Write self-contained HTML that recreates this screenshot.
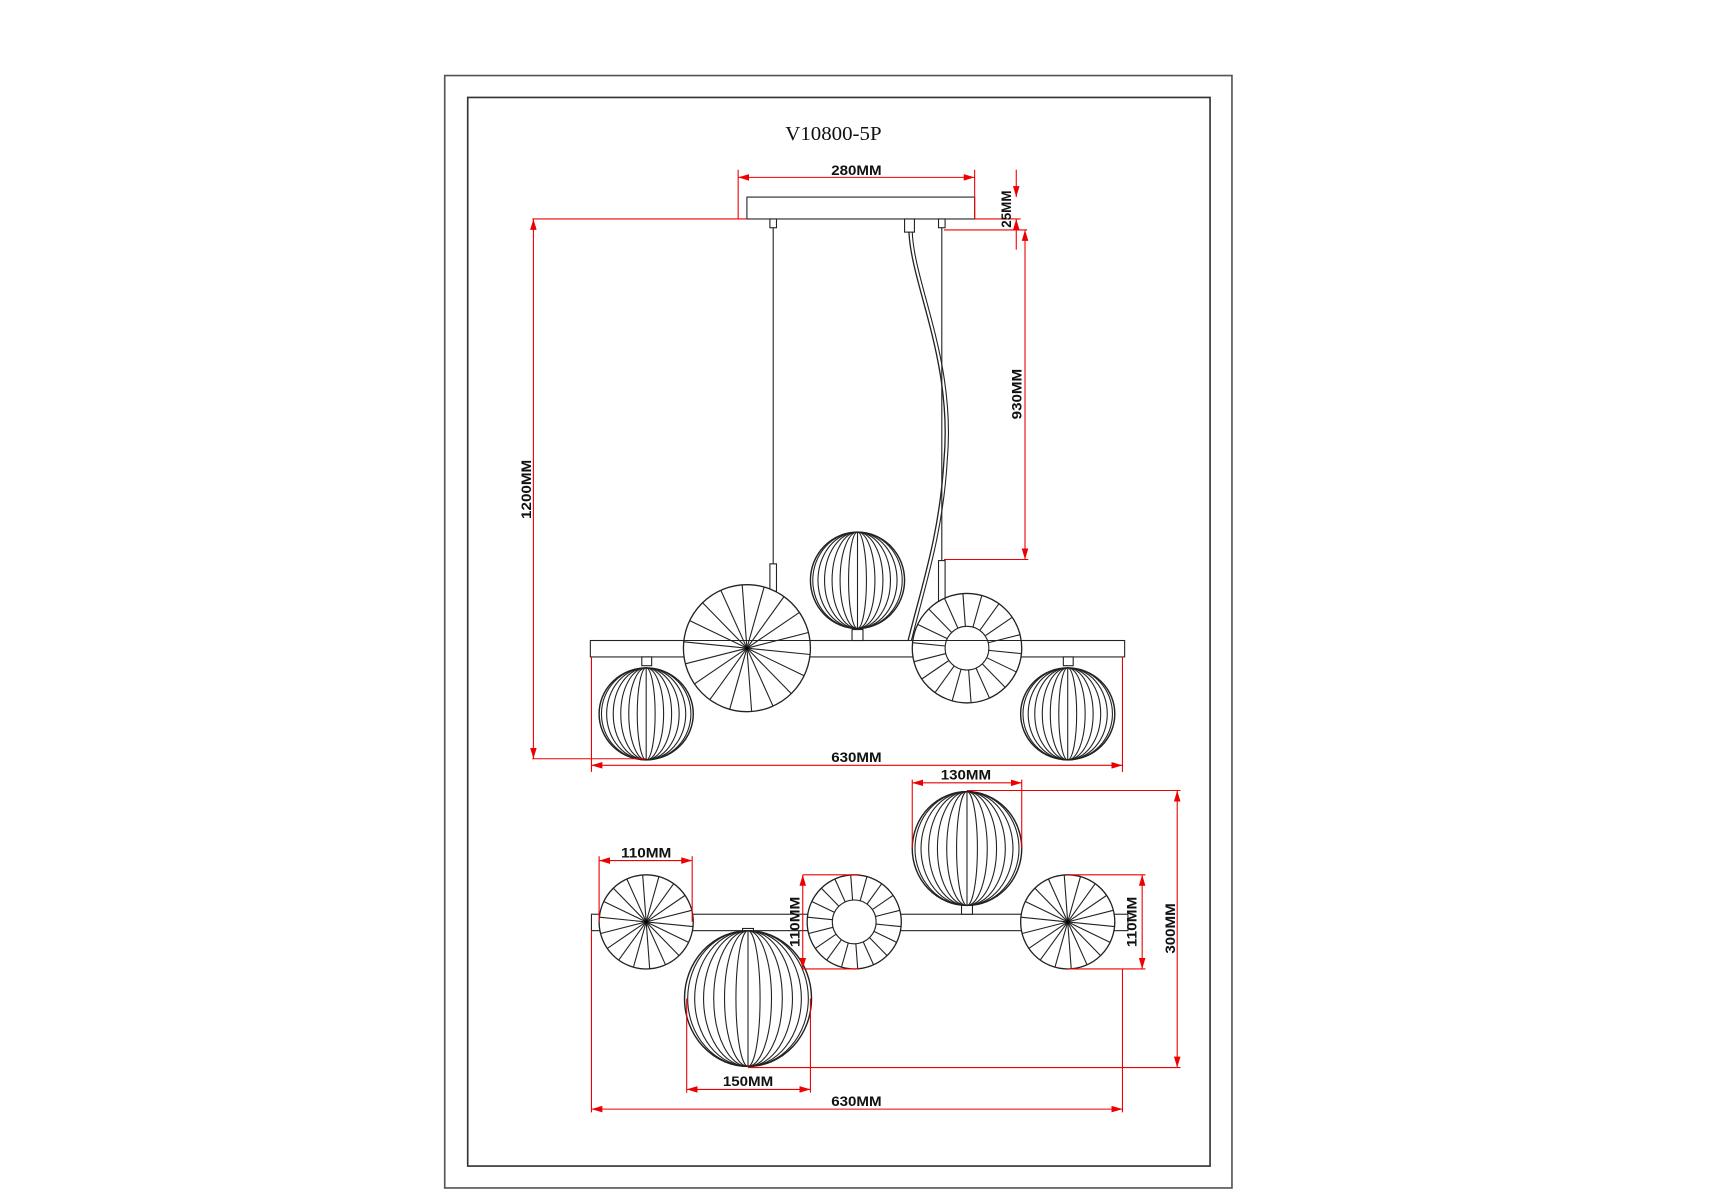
<!DOCTYPE html>
<html><head><meta charset="utf-8"><style>
html,body{margin:0;padding:0;background:#fff;}
svg{display:block;}
.t{font-family:"Liberation Sans",sans-serif;font-weight:bold;font-size:13px;fill:#111;}
</style></head><body>
<svg id="s" width="1715" height="1200" viewBox="0 0 1566 1096" xmlns="http://www.w3.org/2000/svg">
<defs>
<marker id="a" viewBox="0 0 10 6" refX="10" refY="3" markerWidth="10" markerHeight="6" orient="auto-start-reverse" markerUnits="userSpaceOnUse"><path d="M0,0 L10,3 L0,6 z" fill="#e00"/></marker>
</defs>
<rect x="406" y="69" width="719" height="1016" fill="none" stroke="#555" stroke-width="1.5"/>
<rect x="427" y="89" width="678" height="976" fill="none" stroke="#333" stroke-width="1.5"/>
<text x="761" y="128" text-anchor="middle" font-family="Liberation Serif,serif" font-size="18" textLength="88" lengthAdjust="spacingAndGlyphs" fill="#111">V10800-5P</text>

<g id="blk" fill="none" stroke="#222" stroke-width="1"></g>
<g id="red" fill="none" stroke="#e00" stroke-width="1"></g>

<text class="t" x="782" y="160" text-anchor="middle" textLength="46" lengthAdjust="spacingAndGlyphs">280MM</text>
<text class="t" transform="translate(923,191) rotate(-90)" text-anchor="middle" textLength="34" lengthAdjust="spacingAndGlyphs">25MM</text>
<text class="t" transform="translate(933,360) rotate(-90)" text-anchor="middle" textLength="46" lengthAdjust="spacingAndGlyphs">930MM</text>
<text class="t" transform="translate(485,447) rotate(-90)" text-anchor="middle" textLength="54" lengthAdjust="spacingAndGlyphs">1200MM</text>
<text class="t" x="782" y="696" text-anchor="middle" textLength="46" lengthAdjust="spacingAndGlyphs">630MM</text>
<text class="t" x="882" y="712" text-anchor="middle" textLength="46" lengthAdjust="spacingAndGlyphs">130MM</text>
<text class="t" x="590" y="783" text-anchor="middle" textLength="46" lengthAdjust="spacingAndGlyphs">110MM</text>
<text class="t" transform="translate(730,842) rotate(-90)" text-anchor="middle" textLength="46" lengthAdjust="spacingAndGlyphs">110MM</text>
<text class="t" transform="translate(1038,842) rotate(-90)" text-anchor="middle" textLength="46" lengthAdjust="spacingAndGlyphs">110MM</text>
<text class="t" transform="translate(1073,848) rotate(-90)" text-anchor="middle" textLength="46" lengthAdjust="spacingAndGlyphs">300MM</text>
<text class="t" x="683" y="992" text-anchor="middle" textLength="46" lengthAdjust="spacingAndGlyphs">150MM</text>
<text class="t" x="782" y="1010" text-anchor="middle" textLength="46" lengthAdjust="spacingAndGlyphs">630MM</text>
</svg>
<script>
var NS="http://www.w3.org/2000/svg",B=document.getElementById('blk'),R=document.getElementById('red');
function el(p,t,a){var e=document.createElementNS(NS,t);for(var k in a)e.setAttribute(k,a[k]);p.appendChild(e);return e;}
function L(p,x1,y1,x2,y2,ar){var e=el(p,'line',{x1:x1,y1:y1,x2:x2,y2:y2});if(ar){e.setAttribute('marker-start','url(#a)');e.setAttribute('marker-end','url(#a)');}return e;}
function rect(x,y,w,h){el(B,'rect',{x:x,y:y,width:w,height:h,fill:'#fff'});}
function globe(cx,cy,rx,ry){el(B,'ellipse',{cx:cx,cy:cy,rx:rx,ry:ry,fill:'#fff','stroke-width':1.3});
 [0.95,0.84,0.7,0.54,0.37,0.19].forEach(function(k){el(B,'ellipse',{cx:cx,cy:cy,rx:rx*k,ry:ry});});L(B,cx,cy-ry,cx,cy+ry);}
function disc(cx,cy,r,ir){el(B,'circle',{cx:cx,cy:cy,r:r,fill:'#fff','stroke-width':1.2});
 for(var i=0;i<18;i++){var a=i*Math.PI*2/18+0.1;L(B,cx+Math.cos(a)*ir,cy+Math.sin(a)*ir,cx+Math.cos(a)*r,cy+Math.sin(a)*r);}
 if(ir>0)el(B,'circle',{cx:cx,cy:cy,r:ir,fill:'#fff'});else el(B,'circle',{cx:cx,cy:cy,r:2,fill:'#000'});}
// top view
rect(682,180,208,20);
L(B,706,200,706,515);L(B,860,200,860,515);
rect(703,200,6,8);rect(857,200,6,8);rect(826,200,9,12);
el(B,'path',{d:'M830,212 C832,260 870,330 862,420 C858,490 840,540 828,590','stroke-width':1.2});
el(B,'path',{d:'M833,212 C835,260 873,330 865,420 C861,490 843,540 831,590','stroke-width':1});
rect(703,515,6,25);rect(857,512,6,75);
rect(539,585,488,15);
rect(586,600,9,8);rect(971,600,9,8);rect(778,575,10,10);
globe(590,652,43,42);globe(975,652,43,42);globe(783,530,43,44);
disc(682,592,58,0);disc(883,592,50,20);
L(B,539,585,1027,585);
// bottom view
rect(540,835,490,15);
disc(590,842,43,0);disc(780,842,43,20);disc(975,842,43,0);
rect(878,825,10,10);rect(678,848,10,10);
globe(883,775,50,52);globe(683,912,58,62);
// red dims
L(R,674,162,890,162,1);L(R,674,155,674,200);L(R,890,155,890,200);
L(R,486,200,682,200);L(R,890,200,932,200);
L(R,928,155,928,180).setAttribute('marker-end','url(#a)');
L(R,928,228,928,200).setAttribute('marker-end','url(#a)');
L(R,862,210,938,210);L(R,936,210,936,511,1);L(R,862,511,939,511);
L(R,487,200,487,693,1);L(R,486,693,590,693);
L(R,540,600,540,705);L(R,1025,600,1025,705);L(R,540,699,1025,699,1);
L(R,833,715,933,715,1);L(R,833,712,833,775);L(R,933,712,933,775);
L(R,883,722,1078,722);L(R,1075,722,1075,975,1);L(R,683,975,1078,975);
L(R,547,786,632,786,1);L(R,547,782,547,842);L(R,632,782,632,842);
L(R,733,799,733,885,1);L(R,733,799,785,799);L(R,733,885,785,885);
L(R,1043,799,1043,885,1);L(R,975,799,1046,799);L(R,975,885,1046,885);
L(R,627,995,740,995,1);L(R,627,912,627,998);L(R,740,912,740,998);
L(R,540,850,540,1016);L(R,1025,885,1025,1016);L(R,540,1013,1025,1013,1);
</script>
</body></html>
